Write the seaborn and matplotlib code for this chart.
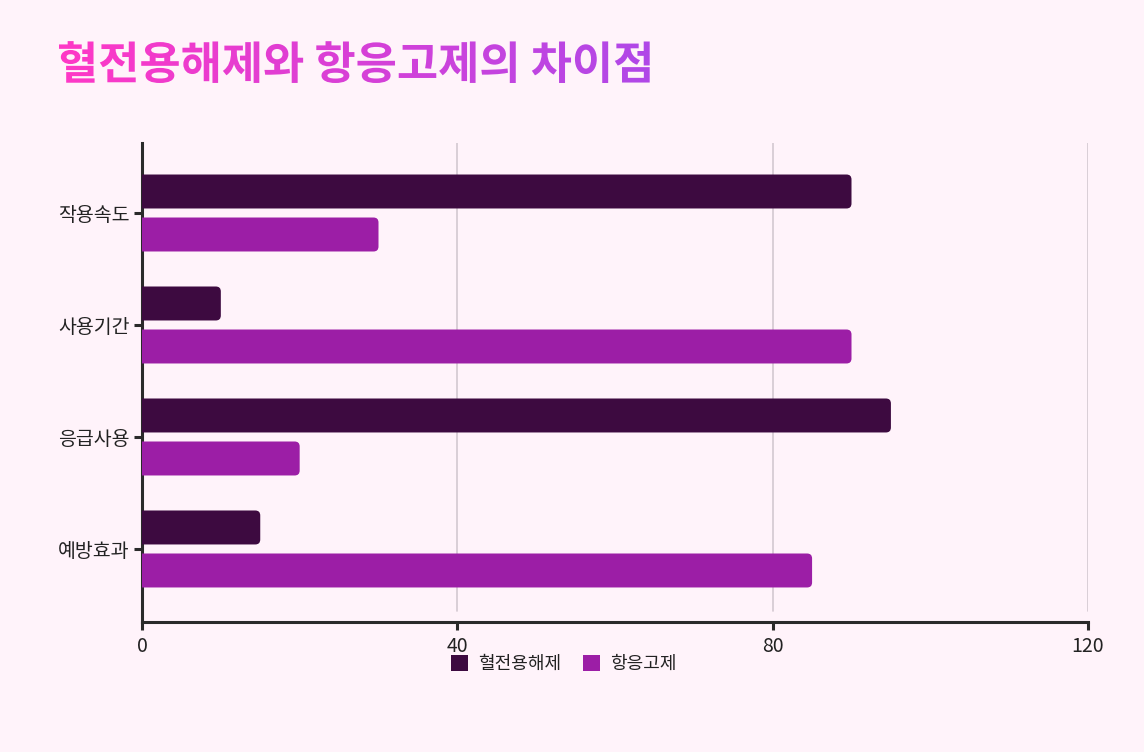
import matplotlib
matplotlib.use("Agg")
import matplotlib.pyplot as plt
import seaborn as sns
import pandas as pd
import numpy as np
from matplotlib.patches import FancyBboxPatch, PathPatch, Patch
from matplotlib.textpath import TextPath
from matplotlib.font_manager import FontProperties
from matplotlib.colors import LinearSegmentedColormap

# Data
categories = ["작용속도", "사용기간", "응급사용", "예방효과"]
thrombolytic = [90, 10, 95, 15]
anticoagulant = [30, 90, 20, 85]
series_names = ["혈전용해제", "항응고제"]
x_ticks = [0, 40, 80, 120]
title = "혈전용해제와 항응고제의 차이점"

colors = ["#3d0a40", "#9c1ea6"]
bg = "#fff3fa"

df = pd.DataFrame({
    "category": categories * 2,
    "value": thrombolytic + anticoagulant,
    "series": [series_names[0]] * 4 + [series_names[1]] * 4,
})

sns.set_theme(style="white")
plt.rcParams["font.family"] = ["Noto Sans CJK KR", "DejaVu Sans"]

fig = plt.figure(figsize=(11.44, 7.52), dpi=100, facecolor=bg)
ax = fig.add_axes([142 / 1144, 1 - 622 / 752, (1088 - 142) / 1144, (622 - 143) / 752])
ax.set_facecolor(bg)

sns.barplot(data=df, y="category", x="value", hue="series", order=categories,
            hue_order=series_names, palette=colors, orient="h",
            width=0.768, gap=0.21, legend=False, ax=ax, saturation=1)

ax.set_xlim(0, 120)
ax.set_ylim(3.652, -0.625)

# replace bars with right-rounded versions
px_x = (1088 - 142) / 120.0   # px per x unit
px_y = 112.0                  # px per y unit
for p in list(ax.patches):
    x0, y0 = p.get_x(), p.get_y()
    w, h = p.get_width(), p.get_height()
    fc = p.get_facecolor()
    p.remove()
    r = 5 / px_x
    fb = FancyBboxPatch((x0 - 2, y0), w + 2, h,
                        boxstyle=f"round,pad=0,rounding_size={r}",
                        mutation_aspect=px_x / px_y,
                        facecolor=fc, edgecolor="none", zorder=3)
    ax.add_patch(fb)

# grid
for xt in x_ticks[1:]:
    ax.axvline(xt, ymin=11 / 479, ymax=1, color="#d3c8d0", lw=1.2, zorder=0)

for s in ["top", "right"]:
    ax.spines[s].set_visible(False)
for s in ["left", "bottom"]:
    ax.spines[s].set_color("#2a2a2a")
    ax.spines[s].set_linewidth(2.2)

ax.set_xticks(x_ticks)
ax.set_xticklabels([str(t) for t in x_ticks])
ax.tick_params(axis="both", length=6, width=2.2, color="#2a2a2a",
               labelsize=14, labelcolor="#222222", bottom=True, left=True)
ax.tick_params(axis="x", pad=4)
ax.tick_params(axis="y", pad=3)
ax.set_xlabel("")
ax.set_ylabel("")

# legend
handles = [Patch(facecolor=c, edgecolor="none") for c in colors]
fig.legend(handles, series_names, loc="center", bbox_to_anchor=(0.493, 1 - 664 / 752),
           ncol=2, frameon=False, fontsize=13, handlelength=0.95, handleheight=0.95,
           handletextpad=0.55, columnspacing=1.2, labelcolor="#222222")

# gradient title
tax = fig.add_axes([0, 0, 1, 1], zorder=5)
tax.set_xlim(0, 1144)
tax.set_ylim(0, 752)
tax.axis("off")
fp = FontProperties(family="Noto Sans CJK KR", weight="bold")
tp = TextPath((57, 752 - 79), title, size=44.8, prop=fp)
ext = tp.get_extents()
patch = PathPatch(tp, facecolor="none", edgecolor="none")
tax.add_patch(patch)
cmap = LinearSegmentedColormap.from_list("tg", ["#ff38c6", "#b048e8"])
grad = np.linspace(0, 1, 256).reshape(1, -1)
im = tax.imshow(grad, cmap=cmap, aspect="auto",
                extent=[ext.x0, ext.x1, ext.y0, ext.y1], origin="lower")
im.set_clip_path(patch)
tax.set_xlim(0, 1144)
tax.set_ylim(0, 752)

fig.savefig("out.png", dpi=100, facecolor=bg)
